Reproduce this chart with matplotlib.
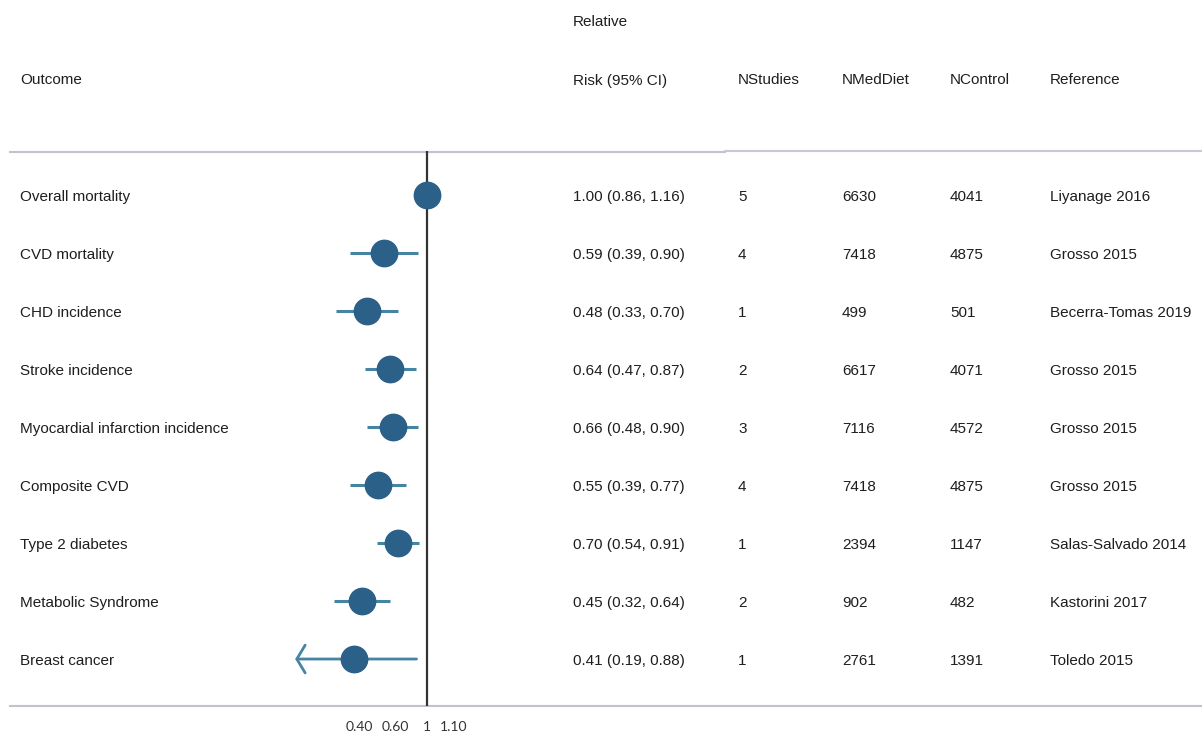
import numpy as np
import matplotlib.pyplot as plt
import matplotlib.transforms as mtransforms

outcomes = ["Overall mortality", "CVD mortality", "CHD incidence", "Stroke incidence",
            "Myocardial infarction incidence", "Composite CVD", "Type 2 diabetes",
            "Metabolic Syndrome", "Breast cancer"]
rr = [1.00, 0.59, 0.48, 0.64, 0.66, 0.55, 0.70, 0.45, 0.41]
lo = [0.86, 0.39, 0.33, 0.47, 0.48, 0.39, 0.54, 0.32, 0.19]
hi = [1.16, 0.90, 0.70, 0.87, 0.90, 0.77, 0.91, 0.64, 0.88]
nstudies = [5, 4, 1, 2, 3, 4, 1, 2, 1]
nmed = [6630, 7418, 499, 6617, 7116, 7418, 2394, 902, 2761]
ncontrol = [4041, 4875, 501, 4071, 4572, 4875, 1147, 482, 1391]
refs = ["Liyanage 2016", "Grosso 2015", "Becerra-Tomas 2019", "Grosso 2015",
        "Grosso 2015", "Grosso 2015", "Salas-Salvado 2014", "Kastorini 2017", "Toledo 2015"]

tick_pos = [0.44, 0.68, 1.0, 1.39]
tick_lab = ["0.40", "0.60", "1", "1.10"]
clip_lo = 0.2

plt.rcParams['font.family'] = ['Liberation Sans', 'DejaVu Sans']
W, H = 1202, 733
fig = plt.figure(figsize=(W / 100, H / 100), dpi=100)

# forest panel, pixel box 270..470 x 151..706
ax = fig.add_axes([270 / W, 1 - 706 / H, 200 / W, 555 / H])
ax.set_facecolor('none')
ax.set_xscale('log')
ax.set_xlim(0.147, 1.69)
ax.set_ylim(8.81, -0.76)
for s in ax.spines.values():
    s.set_visible(False)
ax.axvline(1, color='#333333', lw=1.6, zorder=1)

dot_col = '#2B6088'
ci_col = '#4584A3'
y = np.arange(len(outcomes))
for i in range(len(outcomes)):
    if lo[i] < clip_lo:
        # lower limit off the scale -> open arrow
        ax.annotate('', xy=(clip_lo, y[i]), xytext=(hi[i], y[i]),
                    arrowprops=dict(arrowstyle='->,head_length=0.3,head_width=0.5',
                                    color=ci_col, lw=2.0, mutation_scale=20,
                                    shrinkA=0, shrinkB=0), zorder=2)
    else:
        ax.plot([lo[i], hi[i]], [y[i], y[i]], color=ci_col, lw=2.2, zorder=2,
                solid_capstyle='butt')
ax.plot(rr, y, 'o', ms=19, color=dot_col, mec=dot_col, zorder=3)

ax.set_yticks([])
ax.set_xticks(tick_pos)
ax.set_xticklabels(tick_lab, family=['Lato', 'DejaVu Sans'], fontsize=10, color='#333333')
ax.minorticks_off()
ax.tick_params(axis='x', length=0, pad=11)

# header / footer rules
rule = fig.add_axes([0, 0, 1, 1], zorder=-1)
rule.set_xlim(0, W)
rule.set_ylim(H, 0)
rule.axis('off')
rule.plot([10, 725], [151.5, 151.5], color='#C2C2CC', lw=1.5)
rule.plot([725, W], [150.5, 150.5], color='#C8C8D2', lw=1.5)
rule.plot([10, W], [706, 706], color='#C2C2CC', lw=1.5)

tc = '#1E1E1E'
fs = 11
head = dict(fontsize=fs, color=tc, va='center_baseline', ha='left', transform=rule.transData)
rule.text(20, 79, "Outcome", **head)
rule.text(573, 21, "Relative", **head)
rule.text(573, 79, "Risk (95% CI)", **head)
rule.text(738, 79, "NStudies", **head)
rule.text(842, 79, "NMedDiet", **head)
rule.text(950, 79, "NControl", **head)
rule.text(1050, 79, "Reference", **head)

tr = mtransforms.blended_transform_factory(rule.transData, ax.transData)
for i in range(len(outcomes)):
    kw = dict(fontsize=fs, color=tc, va='center_baseline', ha='left', transform=tr)
    fig.text(20, y[i], outcomes[i], **kw)
    fig.text(573, y[i], "%.2f (%.2f, %.2f)" % (rr[i], lo[i], hi[i]), **kw)
    fig.text(738, y[i], str(nstudies[i]), **kw)
    fig.text(842, y[i], str(nmed[i]), **kw)
    fig.text(950, y[i], str(ncontrol[i]), **kw)
    fig.text(1050, y[i], refs[i], **kw)

fig.savefig('out.png', dpi=100)
